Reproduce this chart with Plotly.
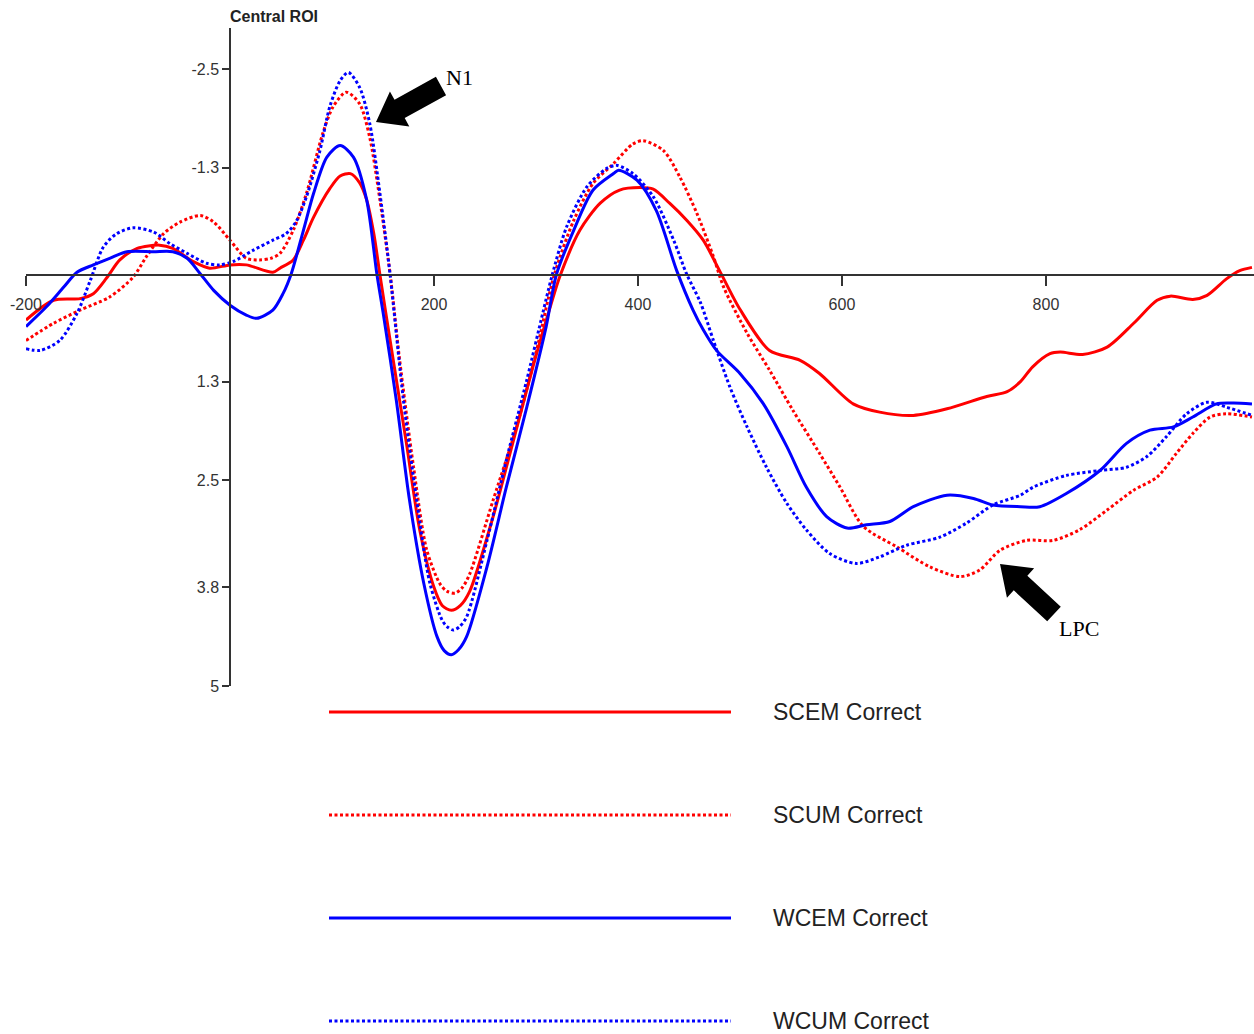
import plotly.graph_objects as go
import math

W, H = 1254, 1034

# ---------------- data (time in ms, amplitude in microvolts) ----------------
scem_t = [-200, -173, -147, -134, -121, -108, -91, -69, -56, -36, -20, 0, 16, 42, 49, 62, 72, 82, 98, 108,
          118, 127, 134, 141, 147, 157, 173, 186, 200, 208, 217, 226, 235, 258, 278, 297, 314, 324, 343, 363,
          382, 402, 415, 431, 448, 464, 480, 500, 529, 559, 578, 611, 637, 670, 703, 742, 762, 775, 787, 804,
          814, 836, 860, 886, 909, 922, 944, 958, 977, 990, 1002]
scem_v = [0.55, 0.31, 0.29, 0.23, 0.04, -0.18, -0.32, -0.36, -0.32, -0.16, -0.08, -0.12, -0.12, -0.03, -0.08, -0.18, -0.42, -0.70, -1.05, -1.20,
          -1.23, -1.12, -0.91, -0.50, 0.0, 0.80, 2.05, 3.10, 3.80, 4.02, 4.08, 4.02, 3.85, 2.94, 2.01, 1.12, 0.39, 0.0, -0.54, -0.87,
          -1.03, -1.06, -1.04, -0.87, -0.66, -0.42, -0.05, 0.42, 0.92, 1.04, 1.20, 1.57, 1.67, 1.71, 1.63, 1.48, 1.42, 1.30, 1.12, 0.96,
          0.94, 0.97, 0.88, 0.59, 0.31, 0.26, 0.30, 0.25, 0.05, -0.05, -0.09]

scum_t = [-200, -173, -147, -118, -95, -82, -65, -49, -29, -16, 0, 16, 29, 40, 49, 62, 75, 91, 101, 114,
          127, 137, 147, 157, 166, 180, 193, 206, 213, 221, 228, 235, 258, 281, 300, 318, 337, 356, 376, 395,
          405, 425, 441, 458, 474, 484, 507, 529, 552, 578, 598, 621, 654, 686, 716, 735, 755, 781, 807, 833,
          860, 886, 909, 928, 944, 961, 977, 1002]
scum_v = [0.80, 0.59, 0.43, 0.27, 0.03, -0.22, -0.50, -0.64, -0.72, -0.64, -0.42, -0.20, -0.18, -0.20, -0.26, -0.54, -0.99, -1.72, -2.04, -2.22,
          -2.08, -1.67, -0.91, -0.01, 1.00, 2.34, 3.35, 3.76, 3.85, 3.87, 3.80, 3.64, 2.74, 1.85, 0.95, 0.0, -0.66, -1.11, -1.35, -1.59,
          -1.63, -1.51, -1.19, -0.74, -0.22, 0.15, 0.71, 1.16, 1.65, 2.17, 2.58, 3.06, 3.31, 3.55, 3.67, 3.59, 3.35, 3.23, 3.23, 3.10,
          2.86, 2.62, 2.46, 2.17, 1.93, 1.73, 1.69, 1.73]

wcem_t = [-200, -180, -163, -150, -134, -118, -101, -75, -56, -42, -29, -16, 0, 16, 26, 42, 52, 60, 72, 82,
          95, 108, 121, 134, 144, 150, 163, 176, 190, 203, 210, 217, 224, 232, 252, 271, 291, 310, 320, 337,
          356, 376, 381, 399, 418, 438, 454, 464, 477, 500, 523, 546, 565, 585, 605, 624, 647, 670, 703, 729,
          748, 775, 794, 820, 853, 879, 902, 925, 944, 967, 984, 1002]
wcem_v = [0.63, 0.39, 0.15, -0.03, -0.12, -0.20, -0.28, -0.28, -0.28, -0.20, -0.01, 0.19, 0.37, 0.49, 0.53, 0.43, 0.23, -0.01, -0.54, -0.99,
          -1.43, -1.57, -1.43, -0.91, -0.01, 0.45, 1.52, 2.74, 3.75, 4.40, 4.57, 4.62, 4.56, 4.40, 3.55, 2.58, 1.61, 0.63, 0.0, -0.54,
          -1.03, -1.23, -1.27, -1.15, -0.78, -0.05, 0.43, 0.67, 0.92, 1.20, 1.57, 2.09, 2.58, 2.94, 3.08, 3.04, 3.00, 2.82, 2.68, 2.72,
          2.80, 2.82, 2.82, 2.66, 2.38, 2.05, 1.89, 1.85, 1.73, 1.57, 1.56, 1.57]

wcum_t = [-200, -186, -167, -150, -137, -124, -111, -95, -75, -59, -42, -23, -10, 3, 23, 42, 55, 65, 75, 88,
          98, 108, 116, 127, 137, 147, 157, 170, 183, 196, 208, 213, 219, 225, 232, 252, 271, 291, 307, 316,
          330, 350, 369, 379, 395, 415, 435, 448, 461, 474, 490, 507, 526, 546, 565, 588, 614, 637, 663, 696,
          722, 748, 775, 788, 820, 853, 879, 899, 918, 938, 958, 977, 1002]
wcum_v = [0.90, 0.92, 0.80, 0.47, 0.07, -0.34, -0.50, -0.57, -0.52, -0.38, -0.26, -0.14, -0.12, -0.16, -0.30, -0.42, -0.50, -0.65, -0.95, -1.50,
          -2.05, -2.36, -2.46, -2.28, -1.84, -0.99, 0.0, 1.52, 2.74, 3.75, 4.20, 4.28, 4.32, 4.28, 4.16, 3.23, 2.25, 1.28, 0.45, 0.0,
          -0.58, -1.07, -1.29, -1.33, -1.23, -0.95, -0.42, 0.0, 0.33, 0.80, 1.36, 1.85, 2.34, 2.78, 3.10, 3.39, 3.51, 3.43, 3.29, 3.19,
          3.02, 2.80, 2.68, 2.58, 2.44, 2.38, 2.34, 2.21, 1.97, 1.69, 1.55, 1.61, 1.71]

series_names = ["SCEM Correct", "SCUM Correct", "WCEM Correct", "WCUM Correct"]
series_t = [scem_t, scum_t, wcem_t, wcum_t]
series_v = [scem_v, scum_v, wcem_v, wcum_v]

x_tickvals = [-200, 200, 400, 600, 800]
x_ticktext = ["-200", "200", "400", "600", "800"]
y_tickvals = [-2.5, -1.3, 1.3, 2.5, 3.8, 5]
y_ticktext = ["-2.5", "-1.3", "1.3", "2.5", "3.8", "5"]
chart_title = "Central ROI"
peak_labels = ["N1", "LPC"]

# ---------------- styles ----------------
series_colors = ["#ff0000", "#ff0000", "#0000ff", "#0000ff"]
series_dash = ["solid", "3px,2.5px", "solid", "3px,2.5px"]
x_range = [-200, 1004]
y_range = [5, -3]          # reversed: negative up
px_left, px_right, px_top, px_bottom = 26, 1254, 28, 686
xdom = [px_left / W, px_right / W]
ydom = [1 - px_bottom / H, 1 - px_top / H]
xaxis_pos = ydom[0] + (y_range[0] - 0) / (y_range[0] - y_range[1]) * (ydom[1] - ydom[0])
yaxis_pos = xdom[0] + (0 - x_range[0]) / (x_range[1] - x_range[0]) * (xdom[1] - xdom[0])

AX = "#333333"
SANS = "Liberation Sans, Arial, Helvetica, sans-serif"
SERIF = "Liberation Serif, Times New Roman, serif"


def px2paper(x, y):
    return x / W, 1 - y / H


fig = go.Figure()
for t, v, name, c, d in zip(series_t, series_v, series_names, series_colors, series_dash):
    fig.add_trace(go.Scatter(
        x=t, y=v, mode="lines", name=name, showlegend=False,
        line=dict(color=c, width=3, dash=d, shape="spline", smoothing=0.8),
    ))

shapes = []
annotations = []

# legend (long line samples + labels)
legend_rows = [712, 815, 918, 1021]
for row, name, c, d in zip(legend_rows, series_names, series_colors, series_dash):
    x0, y0 = px2paper(329, row)
    x1, _ = px2paper(731, row)
    shapes.append(dict(type="line", xref="paper", yref="paper", x0=x0, x1=x1, y0=y0, y1=y0,
                       line=dict(color=c, width=3, dash=d)))
    tx, ty = px2paper(771, row)
    annotations.append(dict(x=tx, y=ty, xref="paper", yref="paper", text=name, showarrow=False,
                            xanchor="left", yanchor="middle",
                            font=dict(family=SANS, size=23, color="#222222")))


def block_arrow(tip, tail, ws, wh, lh):
    dx, dy = tip[0] - tail[0], tip[1] - tail[1]
    L = math.hypot(dx, dy)
    ux, uy = dx / L, dy / L
    nx, ny = -uy, ux
    bx, by = tip[0] - ux * lh, tip[1] - uy * lh
    pts = [
        (tail[0] + nx * ws / 2, tail[1] + ny * ws / 2),
        (bx + nx * ws / 2, by + ny * ws / 2),
        (bx + nx * wh / 2, by + ny * wh / 2),
        tip,
        (bx - nx * wh / 2, by - ny * wh / 2),
        (bx - nx * ws / 2, by - ny * ws / 2),
        (tail[0] - nx * ws / 2, tail[1] - ny * ws / 2),
    ]
    path = ""
    for i, (x, y) in enumerate(pts):
        px_, py_ = px2paper(x, y)
        path += ("M" if i == 0 else "L") + f"{px_:.5f},{py_:.5f} "
    path += "Z"
    return dict(type="path", xref="paper", yref="paper", path=path,
                fillcolor="black", line=dict(width=0))


shapes.append(block_arrow((376, 122), (441, 86), 21, 40, 27))
shapes.append(block_arrow((1000, 564), (1054, 614), 20, 40, 28))

nx_, ny_ = px2paper(444, 77)
annotations.append(dict(x=nx_, y=ny_, xref="paper", yref="paper", text=peak_labels[0], showarrow=False,
                        xanchor="left", yanchor="middle", font=dict(family=SERIF, size=22, color="black")))
lx_, ly_ = px2paper(1057, 628)
annotations.append(dict(x=lx_, y=ly_, xref="paper", yref="paper", text=peak_labels[1], showarrow=False,
                        xanchor="left", yanchor="middle", font=dict(family=SERIF, size=22, color="black")))

tx_, ty_ = px2paper(228, 17)
annotations.append(dict(x=tx_, y=ty_, xref="paper", yref="paper", text="<b>" + chart_title + "</b>",
                        showarrow=False, xanchor="left", yanchor="middle",
                        font=dict(family=SANS, size=16, color="#222222")))

fig.update_layout(
    width=W, height=H,
    margin=dict(l=0, r=0, t=0, b=0, pad=0, autoexpand=False),
    paper_bgcolor="white", plot_bgcolor="white",
    showlegend=False,
    shapes=shapes, annotations=annotations,
    xaxis=dict(domain=xdom, range=x_range, anchor="free", position=xaxis_pos, automargin=False,
               showline=True, linecolor=AX, linewidth=1.5, showgrid=False, zeroline=False,
               ticks="outside", ticklen=10, tickwidth=1.5, tickcolor=AX, ticklabelstandoff=5,
               tickvals=x_tickvals, ticktext=x_ticktext,
               tickfont=dict(family=SANS, size=16, color=AX)),
    yaxis=dict(domain=ydom, range=y_range, anchor="free", position=yaxis_pos, automargin=False,
               showline=True, linecolor=AX, linewidth=1.5, showgrid=False, zeroline=False,
               ticks="outside", ticklen=7, tickwidth=1.5, tickcolor=AX,
               tickvals=y_tickvals, ticktext=y_ticktext,
               tickfont=dict(family=SANS, size=16, color=AX)),
)

fig.write_html("out.html")
